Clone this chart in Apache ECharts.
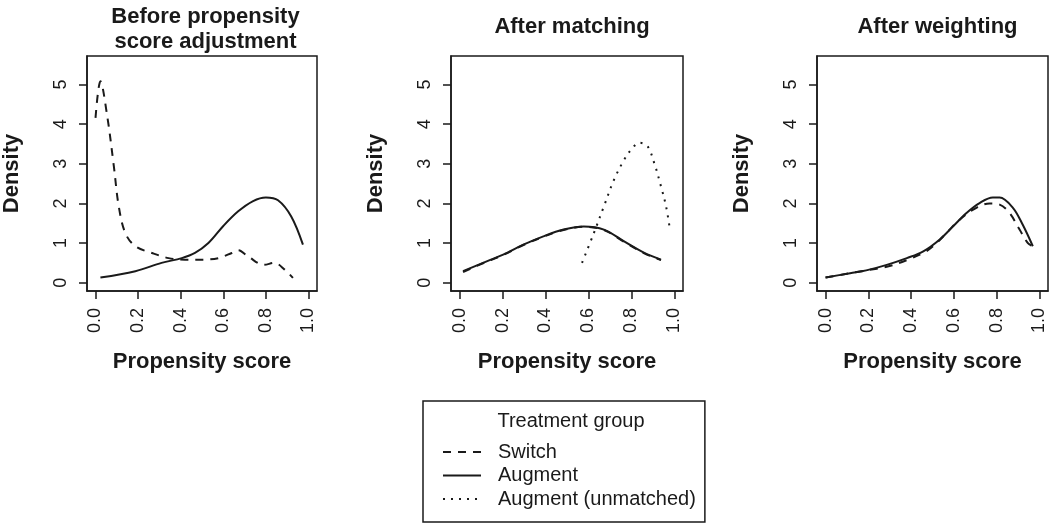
<!DOCTYPE html>
<html>
<head>
<meta charset="utf-8">
<script src="https://cdn.jsdelivr.net/npm/echarts@6/dist/echarts.min.js"></script>
<style>
  html, body { margin: 0; padding: 0; background: #fff; }
  #chart { width: 1050px; height: 525px; }
</style>
</head>
<body>
<div id="chart"></div>
<script>
"use strict";
// density curves, [propensity score, density]
const beforeSwitch = [[0.0,4.16],[0.023,5.08],[0.055,4.2],[0.086,2.94],[0.109,1.93],[0.14,1.25],[0.187,0.92],[0.265,0.75],[0.343,0.62],[0.42,0.58],[0.5,0.58],[0.577,0.62],[0.64,0.75],[0.67,0.82],[0.717,0.66],[0.79,0.45],[0.84,0.5],[0.888,0.33],[0.927,0.12]];
const beforeAugment = [[0.023,0.13],[0.187,0.29],[0.31,0.5],[0.405,0.62],[0.467,0.75],[0.53,1.0],[0.6,1.43],[0.67,1.8],[0.74,2.06],[0.80,2.15],[0.857,2.08],[0.919,1.67],[0.974,0.96]];
const matchSwitch = [[0.016,0.27],[0.109,0.49],[0.203,0.7],[0.297,0.95],[0.39,1.16],[0.484,1.33],[0.578,1.41],[0.672,1.33],[0.766,1.03],[0.86,0.74],[0.9375,0.57]];
const matchAugment = [[0.016,0.29],[0.109,0.5],[0.203,0.71],[0.297,0.96],[0.39,1.17],[0.484,1.34],[0.578,1.42],[0.672,1.34],[0.766,1.04],[0.86,0.75],[0.9375,0.58]];
const matchUnmatched = [[0.57,0.5],[0.625,1.25],[0.672,1.93],[0.719,2.6],[0.766,3.1],[0.805,3.4],[0.836,3.53],[0.875,3.44],[0.906,3.02],[0.9375,2.43],[0.961,1.93],[0.977,1.42]];
const weightSwitch = [[0,0.13],[0.19,0.31],[0.286,0.4],[0.38,0.57],[0.457,0.75],[0.503,0.92],[0.565,1.25],[0.627,1.59],[0.705,1.89],[0.767,2.0],[0.814,1.97],[0.86,1.76],[0.907,1.34],[0.946,1.0],[0.969,0.92]];
const weightAugment = [[0,0.13],[0.115,0.24],[0.19,0.31],[0.286,0.45],[0.38,0.62],[0.457,0.79],[0.534,1.09],[0.596,1.42],[0.659,1.76],[0.72,2.01],[0.782,2.15],[0.814,2.15],[0.876,1.89],[0.922,1.46],[0.969,0.92]];

const xTicks = [0, 0.2, 0.4, 0.6, 0.8, 1.0];
const yTicks = [0, 1, 2, 3, 4, 5];
const panelTitles = ["Before propensity\nscore adjustment", "After matching", "After weighting"];
const groupNames = ["Switch", "Augment", "Augment (unmatched)"];

const FONT = "Liberation Sans, Arial, sans-serif";
const INK = "#1a1a1a";

// panel boxes in px
const panels = [
  { left: 84, width: 233 },
  { left: 451, width: 232 },
  { left: 817, width: 231 },
];

const lineTypes = {
  Switch: [8, 7],
  Augment: "solid",
  "Augment (unmatched)": [2, 6],
};

function makeSeries(name, data, idx) {
  return {
    name: name,
    type: "line",
    xAxisIndex: idx,
    yAxisIndex: idx,
    data: data,
    smooth: 0.35,
    symbol: "none",
    z: name === "Augment" ? 3 : 2,
    lineStyle: { color: INK, width: 2, type: lineTypes[name] },
    itemStyle: { color: INK },
  };
}

const option = {
  backgroundColor: "#fff",
  animation: false,
  textStyle: { fontFamily: FONT },
  title: panelTitles.map((t, i) => ({
    text: t,
    left: panels[i].left + panels[i].width / 2,
    top: i === 0 ? -1 : 9,
    textAlign: "center",
    textStyle: { fontFamily: FONT, fontSize: 22, fontWeight: "bold", color: INK, lineHeight: 25 },
  })).concat([{
    text: "Treatment group",
    left: 566,
    top: 406,
    textAlign: "center",
    textStyle: { fontFamily: FONT, fontSize: 20, fontWeight: "normal", color: INK },
  }]),
  legend: {
    data: groupNames,
    orient: "vertical",
    left: 423,
    top: 401,
    padding: [41, 9, 13, 19],
    borderColor: INK,
    borderWidth: 1.5,
    itemWidth: 38,
    itemHeight: 20,
    itemGap: 3.5,
    itemStyle: { opacity: 0 },
    textStyle: { fontFamily: FONT, fontSize: 20, color: INK, lineHeight: 20, padding: [0, 0, 0, 12] },
  },
  grid: panels.map((p) => ({
    left: p.left,
    width: p.width,
    top: 56,
    height: 235,
    show: true,
    borderColor: INK,
    borderWidth: 1.5,
    containLabel: false,
  })),
  xAxis: panels.map((p, i) => ({
    type: "value",
    gridIndex: i,
    min: -0.04,
    max: 1.04,
    splitLine: { show: false },
    axisLine: { show: true, onZero: false, lineStyle: { color: INK, width: 1.5 } },
    axisTick: { show: true, customValues: xTicks, length: 8, lineStyle: { color: INK, width: 1.5 } },
    axisLabel: {
      customValues: xTicks,
      rotate: 90,
      margin: 17,
      fontSize: 18,
      color: INK,
      formatter: (v) => v.toFixed(1),
    },
    name: "Propensity score",
    nameLocation: "middle",
    nameGap: 60,
    nameTextStyle: { fontFamily: FONT, fontSize: 22, fontWeight: "bold", color: INK },
  })),
  yAxis: panels.map((p, i) => ({
    type: "value",
    gridIndex: i,
    min: -0.21,
    max: 5.72,
    splitLine: { show: false },
    axisLine: { show: true, onZero: false, lineStyle: { color: INK, width: 1.5 } },
    axisTick: { show: true, customValues: yTicks, length: 8, lineStyle: { color: INK, width: 1.5 } },
    axisLabel: {
      customValues: yTicks,
      rotate: 90,
      margin: 17,
      fontSize: 18,
      color: INK,
    },
    name: "Density",
    nameLocation: "middle",
    nameRotate: 90,
    nameGap: 64,
    nameTextStyle: { fontFamily: FONT, fontSize: 22, fontWeight: "bold", color: INK },
  })),
  series: [
    makeSeries("Switch", beforeSwitch, 0),
    makeSeries("Augment", beforeAugment, 0),
    makeSeries("Switch", matchSwitch, 1),
    makeSeries("Augment", matchAugment, 1),
    makeSeries("Augment (unmatched)", matchUnmatched, 1),
    makeSeries("Switch", weightSwitch, 2),
    makeSeries("Augment", weightAugment, 2),
  ],
};

const myChart = echarts.init(document.getElementById("chart"), null, { renderer: "canvas" });
myChart.setOption(option);
</script>
</body>
</html>
